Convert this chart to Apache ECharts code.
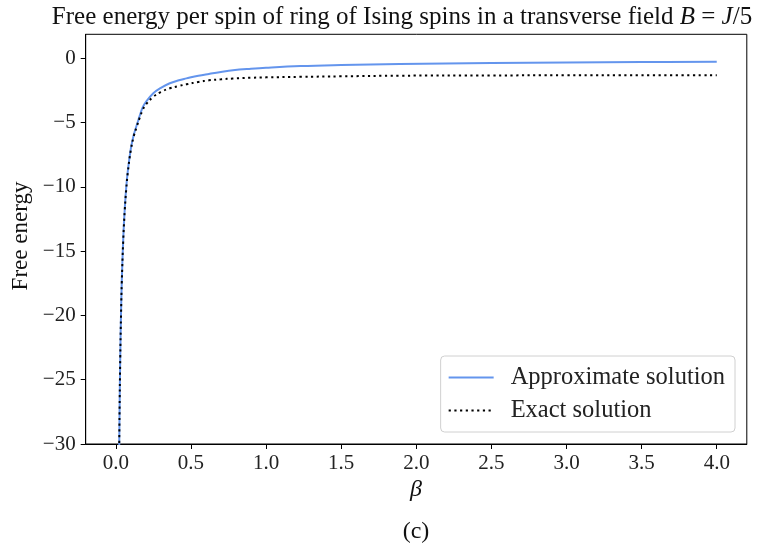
<!DOCTYPE html>
<html>
<head>
<meta charset="utf-8">
<script src="https://cdn.jsdelivr.net/npm/echarts@6/dist/echarts.min.js"></script>
<style>
html,body{margin:0;padding:0;background:#fff;}
#chart{width:764px;height:553px;}
</style>
</head>
<body>
<div id="chart"></div>
<script>
// Inverse temperature values (beta)
const betaValues = [0.02, 0.025, 0.03, 0.035, 0.04, 0.05, 0.06, 0.07, 0.08, 0.1, 0.12, 0.14, 0.16, 0.18, 0.2, 0.25, 0.3, 0.36, 0.42, 0.47, 0.55, 0.62, 0.7, 0.78, 0.9, 1.0, 1.23, 1.5, 1.89, 2.5, 3.0, 3.5, 4.0];
// Approximate solution
const approxValues = [-34.7, -27.8, -23.2, -19.9, -17.4, -14.0, -11.7, -10.0, -8.8, -7.05, -5.95, -5.19, -4.45, -3.8, -3.4, -2.72, -2.3, -1.94, -1.7, -1.56, -1.35, -1.21, -1.06, -0.93, -0.81, -0.73, -0.6, -0.52, -0.44, -0.36, -0.32, -0.29, -0.26];
// Exact solution
const exactValues = [-34.8, -27.9, -23.3, -20.0, -17.5, -14.1, -11.8, -10.15, -8.9, -7.15, -6.05, -5.3, -4.6, -4.0, -3.6, -2.99, -2.62, -2.33, -2.15, -2.02, -1.84, -1.71, -1.63, -1.57, -1.51, -1.48, -1.44, -1.4, -1.35, -1.33, -1.32, -1.32, -1.32];
const xTicks = [0, 0.5, 1.0, 1.5, 2.0, 2.5, 3.0, 3.5, 4.0];
const yTicks = [-30, -25, -20, -15, -10, -5, 0];
const seriesNames = ['Approximate solution', 'Exact solution'];
const titleText = 'Free energy per spin of ring of Ising spins in a transverse field ';

const FONT = '"Liberation Serif", "DejaVu Serif", serif';
const chart = echarts.init(document.getElementById('chart'), null, {renderer: 'canvas'});
const pair = (xs, ys) => xs.map((x, i) => [x, ys[i]]);
const fmtMinus = v => (v < 0 ? '\u2212' + Math.abs(v) : String(v));

const option = {
  animation: false,
  backgroundColor: '#fff',
  grid: {left: 85.7, right: 17.2, top: 34.3, bottom: 109, show: true, borderColor: '#000', borderWidth: 1, containLabel: false},
  xAxis: {
    type: 'value', min: -0.2, max: 4.2,
    axisLine: {show: true, onZero: false, lineStyle: {color: '#000', width: 1}},
    splitLine: {show: false},
    axisTick: {show: true, length: 5, lineStyle: {color: '#000'}, customValues: xTicks},
    axisLabel: {customValues: xTicks, formatter: v => v.toFixed(1), color: '#222', fontFamily: FONT, fontSize: 21, margin: 9}
  },
  yAxis: {
    type: 'value', min: -30, max: 1.87,
    axisLine: {show: true, onZero: false, lineStyle: {color: '#000', width: 1}},
    splitLine: {show: false},
    axisTick: {show: true, length: 5, lineStyle: {color: '#000'}, customValues: yTicks},
    axisLabel: {customValues: yTicks, formatter: v => fmtMinus(v), color: '#222', fontFamily: FONT, fontSize: 21, margin: 10}
  },
  legend: {
    orient: 'vertical', right: 29, top: 356,
    data: seriesNames,
    padding: [9, 10, 9, 7], itemGap: 8, itemWidth: 45, itemHeight: 22,
    itemStyle: {opacity: 0},
    borderColor: '#d0d0d0', borderWidth: 1, borderRadius: 4, backgroundColor: '#fff',
    textStyle: {fontFamily: FONT, fontSize: 24.5, color: '#222', padding: [0, 0, 0, 12]}
  },
  series: [
    {name: seriesNames[0], type: 'line', data: pair(betaValues, approxValues), showSymbol: false, symbol: 'none', smooth: 0.4, clip: true,
     lineStyle: {color: '#6495ED', width: 2}, itemStyle: {color: '#6495ED'}, z: 2},
    {name: seriesNames[1], type: 'line', data: pair(betaValues, exactValues), showSymbol: false, symbol: 'none', smooth: 0.4, clip: true,
     lineStyle: {color: '#000', width: 2, type: [2.2, 3.5]}, itemStyle: {color: '#000'}, z: 3}
  ],
  graphic: [
    {type: 'text', x: 402, y: 17, style: {text: titleText + '{i|B} = {i|J}/5', textAlign: 'center', textVerticalAlign: 'middle', font: '25px ' + FONT, fill: '#111',
      rich: {i: {fontStyle: 'italic', fontFamily: FONT, fontSize: 25}}}},
    {type: 'text', x: 21, y: 236, rotation: Math.PI / 2, style: {text: 'Free energy', textAlign: 'center', textVerticalAlign: 'middle', font: '23px ' + FONT, fill: '#111'}},
    {type: 'text', x: 416, y: 490, style: {text: '\u03B2', textAlign: 'center', textVerticalAlign: 'middle', font: 'italic 24px ' + FONT, fill: '#111'}},
    {type: 'text', x: 416, y: 532, style: {text: '(c)', textAlign: 'center', textVerticalAlign: 'middle', font: '24px ' + FONT, fill: '#111'}}
  ]
};
chart.setOption(option);
</script>
</body>
</html>
